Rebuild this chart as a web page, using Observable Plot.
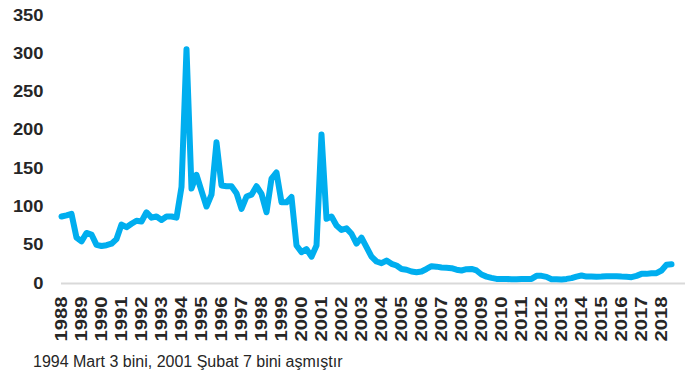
<!DOCTYPE html>
<html><head><meta charset="utf-8">
<script src="https://cdn.jsdelivr.net/npm/d3@7"></script>
<script src="https://cdn.jsdelivr.net/npm/@observablehq/plot@0.6"></script>
<style>
body{margin:0;background:#fff;font-family:"Liberation Sans",Arial,sans-serif;}
#wrap{position:relative;width:694px;height:376px;overflow:hidden;}
#cap{position:absolute;left:33px;top:354px;font-size:16px;line-height:16px;color:#262626;white-space:nowrap;}
</style></head><body>
<div id="wrap"><div id="chart"></div><div id="cap"></div></div>
<script>
const startYear = 1988;
// quarterly values, 1988Q1 .. 2018Q3
const values = [
  87.5, 89, 91, 60, 55, 66, 64, 50.5, 49, 50, 52, 58,
  77, 73.5, 78, 82, 81, 93, 86, 87.5, 83, 87.5, 87.5, 86,
  126, 306, 124, 142, 121, 100.5, 116, 184.5, 128, 127, 127, 118,
  97.5, 113.6, 116, 127, 117, 93, 137, 145, 106, 106, 113, 49.6,
  41, 45, 35, 49.6, 194.6, 84.5, 87.5, 75.7, 70, 72, 65, 52,
  60, 47.5, 35, 28.7, 26.5, 30, 25.7, 23.5, 19, 18, 15.7, 14.8,
  15.7, 19, 22.6, 22, 21, 20.5, 20, 18, 17, 18.7, 19, 17,
  11.7, 9, 7.4, 6, 6, 6, 5.6, 5.6, 6, 6, 6, 10,
  10, 8.7, 5.6, 5.6, 5.2, 6, 7, 9, 10.4, 9, 9, 8.7,
  9, 9.6, 9.6, 9.6, 9, 8.7, 8.3, 10, 12.6, 12.6, 13.5, 13.5,
  17, 24.5, 25
];
const yearLabels = [1988,1989,1990,1991,1992,1993,1994,1995,1996,1997,1998,1999,2000,2001,2002,2003,2004,2005,2006,2007,2008,2009,2010,2011,2012,2013,2014,2015,2016,2017,2018];
const yTicks = [0, 50, 100, 150, 200, 250, 300, 350];
const captionText = "1994 Mart 3 bini, 2001 Şubat 7 bini aşmıştır";

const data = values.map((v, i) => ({t: startYear + i / 4, v}));

const chart = Plot.plot({
  width: 694, height: 345,
  marginLeft: 61, marginRight: 9, marginTop: 15, marginBottom: 62,
  style: {fontFamily: "'Liberation Sans', Arial, sans-serif", fontSize: "16px", fontWeight: "bold", color: "#262626", background: "#fff", overflow: "visible"},
  x: {domain: [1988, 2019.2], ticks: yearLabels, tickFormat: d => String(d), tickRotate: -90, tickSize: 0, tickPadding: 13, label: null},
  y: {domain: [0, 350], ticks: yTicks, tickSize: 0, tickPadding: 18, label: null},
  marks: [
    Plot.ruleY([0], {stroke: "#d9d9d9", strokeWidth: 2}),
    Plot.lineY(data, {x: "t", y: "v", stroke: "#00AEEF", strokeWidth: 6, strokeLinejoin: "round", strokeLinecap: "round"})
  ]
});
document.getElementById("chart").appendChild(chart);
document.getElementById("cap").textContent = captionText;
d3.select(chart).selectAll('g[aria-label="x-axis tick label"] text')
  .attr("textLength", 45).attr("lengthAdjust", "spacingAndGlyphs");
d3.select(chart).selectAll('g[aria-label="y-axis tick label"] text')
  .each(function() { const n = this.textContent.length; d3.select(this).attr("textLength", n * 10.2).attr("lengthAdjust", "spacingAndGlyphs"); });
</script>
</body></html>
